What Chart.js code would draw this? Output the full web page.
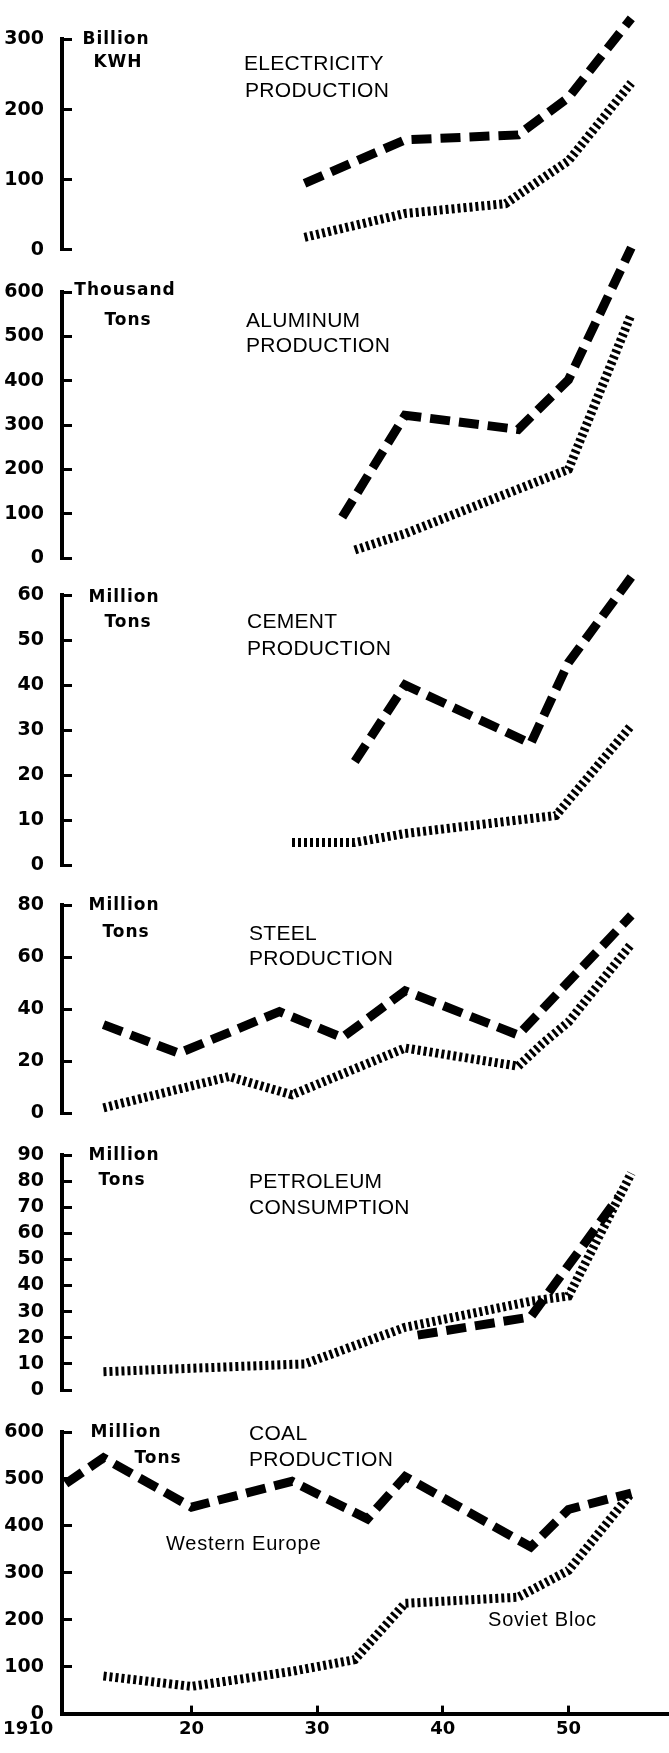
<!DOCTYPE html>
<html>
<head>
<meta charset="utf-8">
<script src="https://cdn.jsdelivr.net/npm/chart.js@4/dist/chart.umd.min.js"></script>
<style>
html,body{margin:0;padding:0;background:#fff;}
#wrap{position:relative;width:669px;height:1753px;overflow:hidden;background:#fff;}
#wrap canvas{position:absolute;left:0;top:0;}
.t{position:absolute;font-family:"Liberation Sans",Arial,sans-serif;font-size:21px;line-height:21px;letter-spacing:0.3px;color:#000;white-space:nowrap;}
.s{position:absolute;font-family:"Liberation Sans",Arial,sans-serif;font-size:20px;line-height:20px;letter-spacing:0.8px;color:#000;white-space:nowrap;}
.u{position:absolute;font-family:"DejaVu Sans",sans-serif;font-weight:bold;font-size:17px;line-height:17px;letter-spacing:1px;color:#000;white-space:nowrap;transform:translateX(-50%);}
</style>
</head>
<body>
<div id="wrap">
<canvas id="c0" width="669" height="1753"></canvas>
<canvas id="c1" width="669" height="1753"></canvas>
<canvas id="c2" width="669" height="1753"></canvas>
<canvas id="c3" width="669" height="1753"></canvas>
<canvas id="c4" width="669" height="1753"></canvas>
<canvas id="c5" width="669" height="1753"></canvas>

<div class="u" style="left:116px;top:30px;">Billion</div>
<div class="u" style="left:118px;top:53px;">KWH</div>
<div class="t" style="left:244px;top:52px;">ELECTRICITY</div>
<div class="t" style="left:245px;top:79px;">PRODUCTION</div>

<div class="u" style="left:125px;top:281px;">Thousand</div>
<div class="u" style="left:128px;top:311px;">Tons</div>
<div class="t" style="left:246px;top:309px;">ALUMINUM</div>
<div class="t" style="left:246px;top:334px;">PRODUCTION</div>

<div class="u" style="left:124px;top:588px;">Million</div>
<div class="u" style="left:128px;top:613px;">Tons</div>
<div class="t" style="left:247px;top:610px;">CEMENT</div>
<div class="t" style="left:247px;top:637px;">PRODUCTION</div>

<div class="u" style="left:124px;top:896px;">Million</div>
<div class="u" style="left:126px;top:923px;">Tons</div>
<div class="t" style="left:249px;top:922px;">STEEL</div>
<div class="t" style="left:249px;top:947px;">PRODUCTION</div>

<div class="u" style="left:124px;top:1146px;">Million</div>
<div class="u" style="left:122px;top:1171px;">Tons</div>
<div class="t" style="left:249px;top:1170px;">PETROLEUM</div>
<div class="t" style="left:249px;top:1196px;">CONSUMPTION</div>

<div class="u" style="left:126px;top:1423px;">Million</div>
<div class="u" style="left:158px;top:1449px;">Tons</div>
<div class="t" style="left:249px;top:1422px;">COAL</div>
<div class="t" style="left:249px;top:1448px;">PRODUCTION</div>
<div class="s" style="left:166px;top:1533px;">Western Europe</div>
<div class="s" style="left:488px;top:1609px;">Soviet Bloc</div>
</div>

<script>
// ---------- data ----------
const xTickValues = [1910, 1920, 1930, 1940, 1950];
const xTickLabels = ['1910            ', '20', '30', '40', '50'];

const elecWEYears = [1929, 1937, 1946, 1950, 1955];
const elecWE      = [95, 157, 164, 217, 330];
const elecSBYears = [1929, 1937, 1945, 1948, 1950, 1955];
const elecSB      = [18, 52, 66, 103, 127, 238];

const alumWEYears = [1932, 1937, 1946, 1950, 1955];
const alumWE      = [92, 322, 290, 402, 700];
const alumSBYears = [1933, 1937, 1950, 1955];
const alumSB      = [18, 55, 200, 550];

const cemWEYears = [1933, 1937, 1947, 1950, 1955];
const cemWE      = [23, 40, 27, 45, 64];
const cemSBYears = [1928, 1933, 1937, 1949, 1955];
const cemSB      = [5, 5, 7, 11, 31];

const steelWEYears = [1913, 1919, 1927, 1932, 1937, 1946, 1955];
const steelWE      = [34, 23, 39, 29, 47, 30, 76];
const steelSBYears = [1913, 1923, 1928, 1937, 1946, 1948, 1950, 1955];
const steelSB      = [2, 14, 7, 25, 18, 27, 35, 65];

const petWEYears = [1938, 1947, 1954];
const petWE      = [21, 28, 74];
const petSBYears = [1913, 1929, 1937, 1947, 1950, 1955];
const petSB      = [7, 10, 24, 34, 36, 83];

const coalWEYears = [1910, 1913, 1920, 1928, 1934, 1937, 1947, 1950, 1955];
const coalWE      = [490, 545, 440, 495, 415, 505, 355, 435, 470];
const coalSBYears = [1913, 1920, 1928, 1933, 1937, 1946, 1950, 1955];
const coalSB      = [80, 58, 90, 115, 235, 248, 305, 470];

const yMaxes = [300, 600, 60, 80, 90, 600];
const ySteps = [100, 100, 10, 20, 10, 100];

// ---------- layout (pixels) ----------
const PAGE_H = 1753;
const panelTop    = [38, 292, 595, 905, 1155, 1432];
const panelBottom = [250, 558, 865, 1113, 1390, 1720];
const AXIS_X = 62;
const X_MIN = 1909.7, X_MAX = 1958;
const X_AXIS_H = 30;

const pts = (xs, ys) => xs.map((x, i) => ({x: x, y: ys[i]}));

const series = [
  [pts(elecWEYears, elecWE),   pts(elecSBYears, elecSB)],
  [pts(alumWEYears, alumWE),   pts(alumSBYears, alumSB)],
  [pts(cemWEYears, cemWE),     pts(cemSBYears, cemSB)],
  [pts(steelWEYears, steelWE), pts(steelSBYears, steelSB)],
  [pts(petWEYears, petWE),     pts(petSBYears, petSB)],
  [pts(coalWEYears, coalWE),   pts(coalSBYears, coalSB)]
];

const yTickFont = {family: 'DejaVu Sans', weight: 'bold', size: 19};
const xTickFont = {family: 'DejaVu Sans', weight: 'bold', size: 18};

function makePanel(i) {
  const showX = (i === 5);
  const padBottom = showX ? (PAGE_H - panelBottom[i] - X_AXIS_H) : (PAGE_H - panelBottom[i]);
  new Chart(document.getElementById('c' + i), {
    type: 'line',
    data: {
      datasets: [
        {
          label: 'Western Europe',
          data: series[i][0],
          borderColor: '#000',
          borderWidth: 9,
          borderDash: [20, 9],
          borderCapStyle: 'butt',
          pointRadius: 0,
          tension: 0,
          fill: false,
          clip: false
        },
        {
          label: 'Soviet Bloc',
          data: series[i][1],
          borderColor: '#000',
          borderWidth: 9,
          borderDash: [3, 3],
          borderCapStyle: 'butt',
          pointRadius: 0,
          tension: 0,
          fill: false,
          clip: false
        }
      ]
    },
    options: {
      responsive: false,
      animation: false,
      devicePixelRatio: 1,
      events: [],
      layout: {padding: {top: panelTop[i], bottom: padBottom, left: 0, right: 0}},
      plugins: {legend: {display: false}, tooltip: {enabled: false}, title: {display: false}},
      scales: {
        x: {
          type: 'linear',
          min: X_MIN,
          max: X_MAX,
          display: showX,
          position: 'bottom',
          afterBuildTicks: s => { s.ticks = xTickValues.map(v => ({value: v})); },
          afterFit: s => {
            if (showX) s.height = X_AXIS_H;
            s.paddingLeft = 0;
            s.paddingRight = 0;
          },
          ticks: {
            font: xTickFont,
            color: '#000',
            padding: 13,
            maxRotation: 0,
            autoSkip: false,
            callback: (v) => { const k = xTickValues.indexOf(v); return k >= 0 ? xTickLabels[k] : ''; }
          },
          grid: {
            display: true,
            drawOnChartArea: false,
            drawTicks: true,
            tickLength: -8,
            lineWidth: 3,
            color: c => (c.tick && c.tick.value === 1910) ? 'rgba(0,0,0,0)' : '#000'
          },
          border: {display: true, color: '#000', width: 4}
        },
        y: {
          type: 'linear',
          min: 0,
          max: yMaxes[i],
          position: 'left',
          afterFit: s => { s.width = AXIS_X; },
          ticks: {
            stepSize: ySteps[i],
            autoSkip: false,
            font: yTickFont,
            color: '#000',
            padding: 28
          },
          grid: {
            display: true,
            drawOnChartArea: false,
            drawTicks: true,
            tickLength: -10,
            lineWidth: 3,
            color: '#000'
          },
          border: {display: true, color: '#000', width: 4}
        }
      }
    }
  });
}

for (let i = 0; i < 6; i++) makePanel(i);
</script>
</body>
</html>
